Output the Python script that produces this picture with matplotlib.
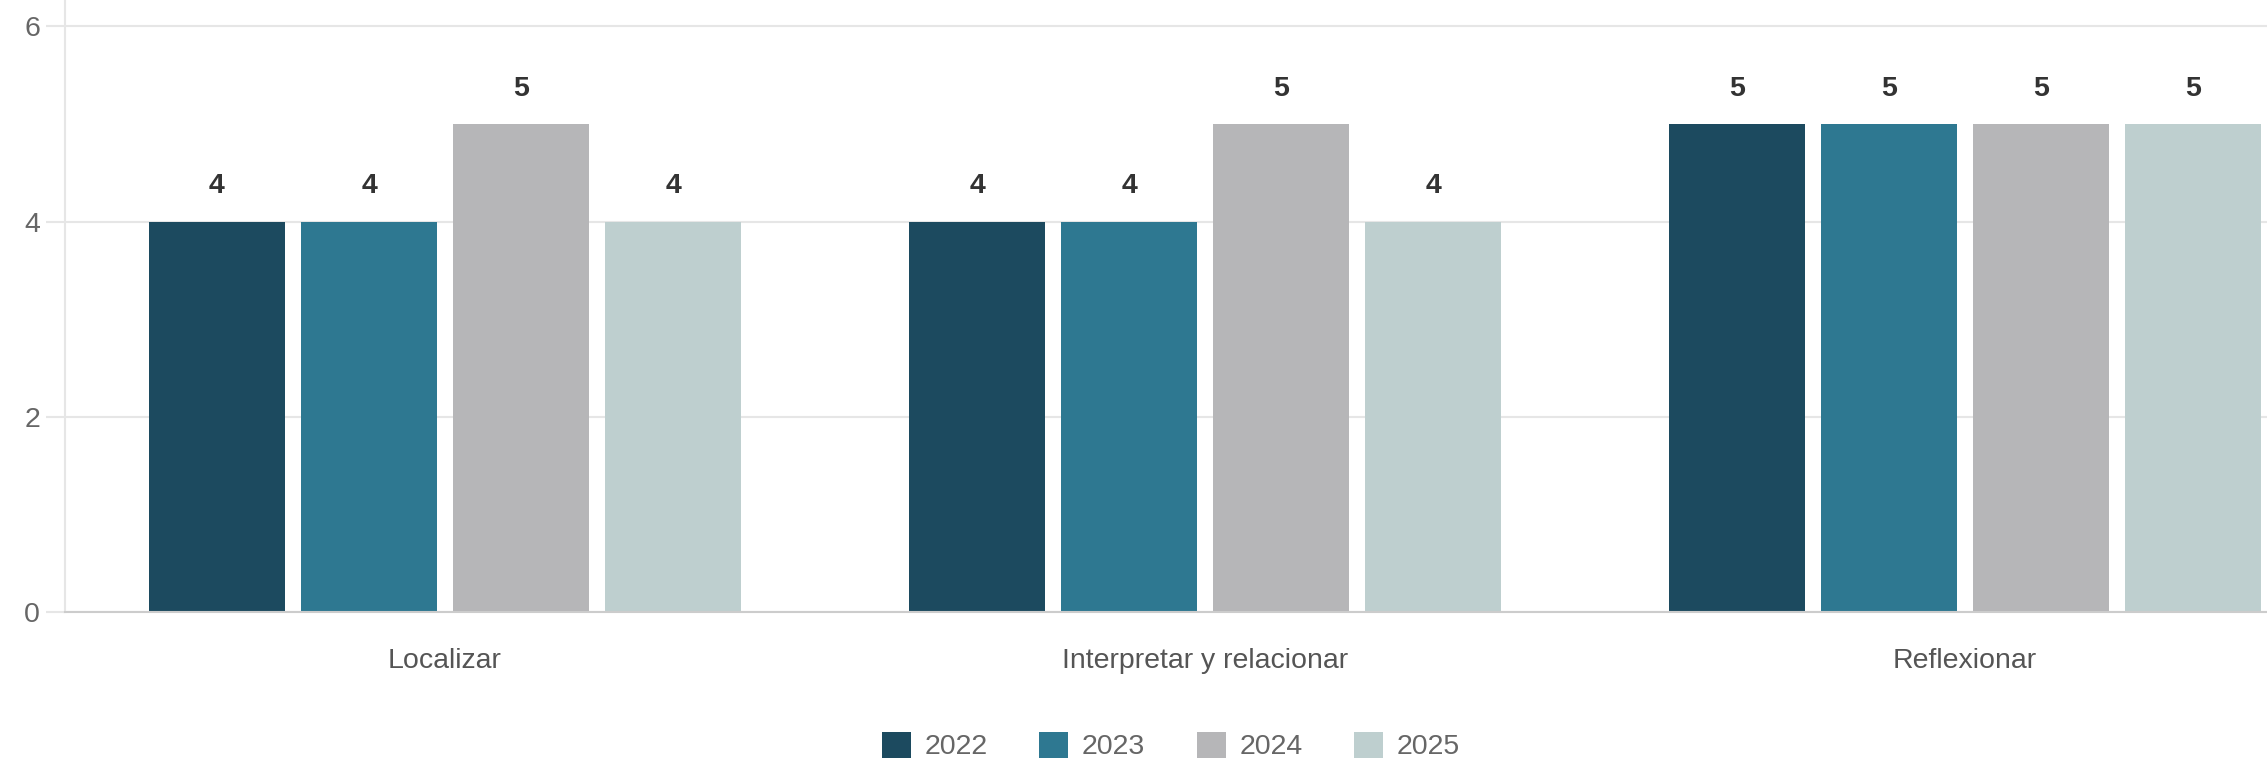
import numpy as np
import matplotlib
matplotlib.use('Agg')
import matplotlib.pyplot as plt

plt.rcParams['font.family'] = ['Liberation Sans', 'DejaVu Sans']

# Data
categories = ['Localizar', 'Interpretar y relacionar', 'Reflexionar']
years = ['2022', '2023', '2024', '2025']
values_2022 = [4, 4, 5]
values_2023 = [4, 4, 5]
values_2024 = [5, 5, 5]
values_2025 = [4, 4, 5]
series = [values_2022, values_2023, values_2024, values_2025]
colors = ['#1c4a5f', '#2e7891', '#b6b6b8', '#becfcf']
yticks = [0, 2, 4, 6]

W, H = 2267, 759
fig = plt.figure(figsize=(W / 100, H / 100), dpi=100)
# plot area runs past the right edge, as in the cropped original
ax = fig.add_axes([65 / W, 147 / H, (2345 - 65) / W, 612 / H])

x = np.arange(len(categories))
bar_w = 0.18
step = 0.2
for j, (vals, col, yr) in enumerate(zip(series, colors, years)):
    pos = x + (j - 1.5) * step
    bars = ax.bar(pos, vals, width=bar_w, color=col, label=yr, zorder=3)
    for b, v in zip(bars, vals):
        ax.annotate(str(v), (b.get_x() + b.get_width() / 2, v),
                    xytext=(0, 16), textcoords='offset points',
                    ha='center', va='bottom', fontsize=20.5,
                    fontweight='bold', color='#333333')

ax.set_xlim(-0.5, len(categories) - 0.5)
ax.set_ylim(0, 6.27)
ax.set_yticks(yticks)
ax.set_xticks(x)
ax.set_xticklabels(categories)

ax.grid(axis='y', color='#e6e6e6', linewidth=1.5, zorder=0)
ax.set_axisbelow(True)
for s in ['top', 'right']:
    ax.spines[s].set_visible(False)
ax.spines['left'].set_color('#e6e6e6')
ax.spines['left'].set_linewidth(1.5)
ax.spines['bottom'].set_color('#cccccc')
ax.spines['bottom'].set_linewidth(1.5)
ax.spines['bottom'].set_zorder(4)

ax.tick_params(axis='y', length=14, width=1.5, color='#e6e6e6',
               pad=4, labelsize=20.5, labelcolor='#666666')
ax.tick_params(axis='x', length=0, pad=26, labelsize=20.5,
               labelcolor='#555555')

fig.legend(loc='center', bbox_to_anchor=(1171 / W, 1 - 746 / H),
           ncol=4, frameon=False, fontsize=20.5, labelcolor='#666666',
           handlelength=1.03, handleheight=1.03, handletextpad=0.48,
           columnspacing=1.8, borderpad=0)

fig.savefig('out.png', dpi=100)
